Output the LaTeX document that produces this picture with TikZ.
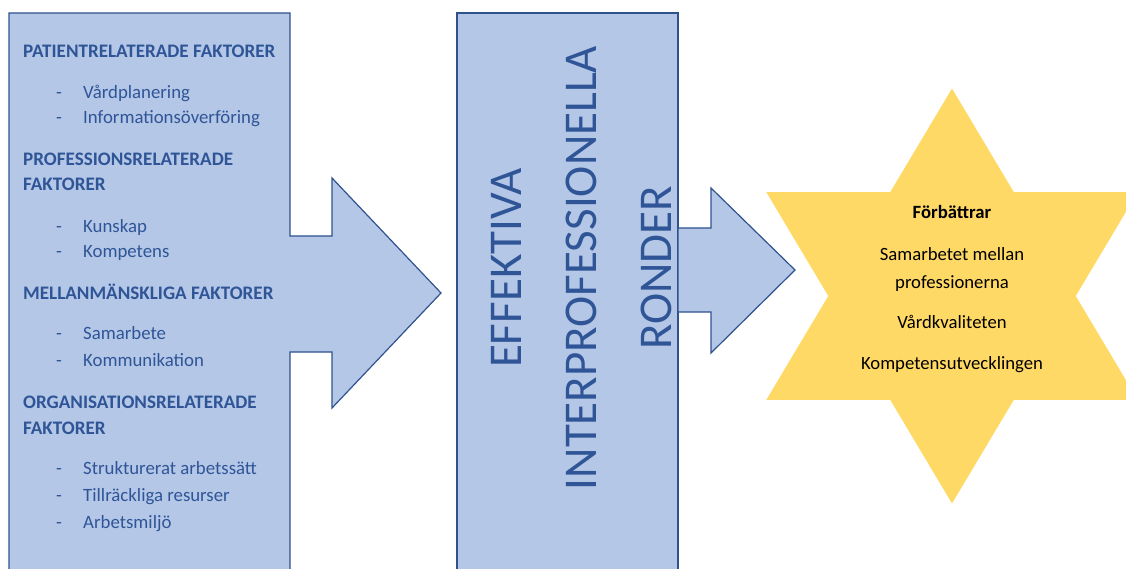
\documentclass[tikz,border=0pt]{standalone}
\usepackage{fontspec}
\setmainfont{Carlito}

\definecolor{boxfill}{HTML}{B4C7E7}
\definecolor{boxline}{HTML}{2F528F}
\definecolor{boxtext}{HTML}{2F5597}
\definecolor{starfill}{HTML}{FFD966}

\tikzset{
  shapebox/.style={fill=boxfill, draw=boxline, line width=1.2pt, line join=miter},
  heading/.style={anchor=base west, inner sep=0pt, text=boxtext, font=\fontsize{19.1}{22}\selectfont\bfseries},
  itemtext/.style={anchor=base west, inner sep=0pt, text=boxtext, font=\fontsize{18.8}{22}\selectfont},
  startext/.style={anchor=base, inner sep=0pt, font=\fontsize{18.7}{22}\selectfont}
}

\begin{document}
\begin{tikzpicture}[x=1pt,y=-1pt]
    \clip (0,0) rectangle (1126,569);

    % left box with arrow
    \draw[shapebox] (9,13) -- (290,13) -- (290,236) -- (332,236) -- (332,178)
        -- (441,293) -- (332,408) -- (332,352) -- (290,352) -- (290,580)
        -- (9,580) -- cycle;

    % middle box and small arrow
    \draw[shapebox] (457,13) rectangle (678,580);
    \draw[shapebox] (678,228) -- (711,228) -- (711,188) -- (795,270)
        -- (711,353) -- (711,312) -- (678,312) -- cycle;

    % star
    \fill[starfill, shift={(952,296)}, xscale=1.033]
        (90:207.5) \foreach \k in {1,...,11} {
            -- ({90+30*\k}:{mod(\k,2)==1 ? 119.8 : 207.5})
        } -- cycle;

    % headings
    \node[heading] (h1) at (23,58) {PATIENTRELATERADE FAKTORER};
    \node[heading] (h2) at (23,166) {PROFESSIONSRELATERADE};
    \node[heading] (h2b) at (23,191) {FAKTORER};
    \node[heading] (h3) at (23,299) {MELLANMÄNSKLIGA FAKTORER};
    \node[heading] (h4) at (23,408) {ORGANISATIONSRELATERADE};
    \node[heading] (h4b) at (23,434) {FAKTORER};

    % list items
    \foreach \y/\t [count=\i] in {99/Vårdplanering, 124/Informationsöverföring,
        233/Kunskap, 258/Kompetens, 339/Samarbete, 366/Kommunikation,
        474/Strukturerat arbetssätt, 501/Tillräckliga resurser, 528/Arbetsmiljö} {
        \node[itemtext] (dash\i) at (56,\y) {-};
        \node[itemtext] (item\i) at (83,\y) {\t};
    }

    % rotated title
    \node[rotate=90, align=center, inner sep=0pt, text=boxtext,
          font=\fontsize{47}{75}\selectfont] (title) at (582,268)
        {EFFEKTIVA\\INTERPROFESSIONELLA\\RONDER};

    % star text
    \node[startext, font=\fontsize{18.7}{22}\selectfont\bfseries] (s1) at (952,219) {Förbättrar};
    \node[startext] (s2) at (952,261) {Samarbetet mellan};
    \node[startext] (s3) at (952,288) {professionerna};
    \node[startext] (s4) at (952,328) {Vårdkvaliteten};
    \node[startext] (s5) at (952,369) {Kompetensutvecklingen};
\end{tikzpicture}
\end{document}
